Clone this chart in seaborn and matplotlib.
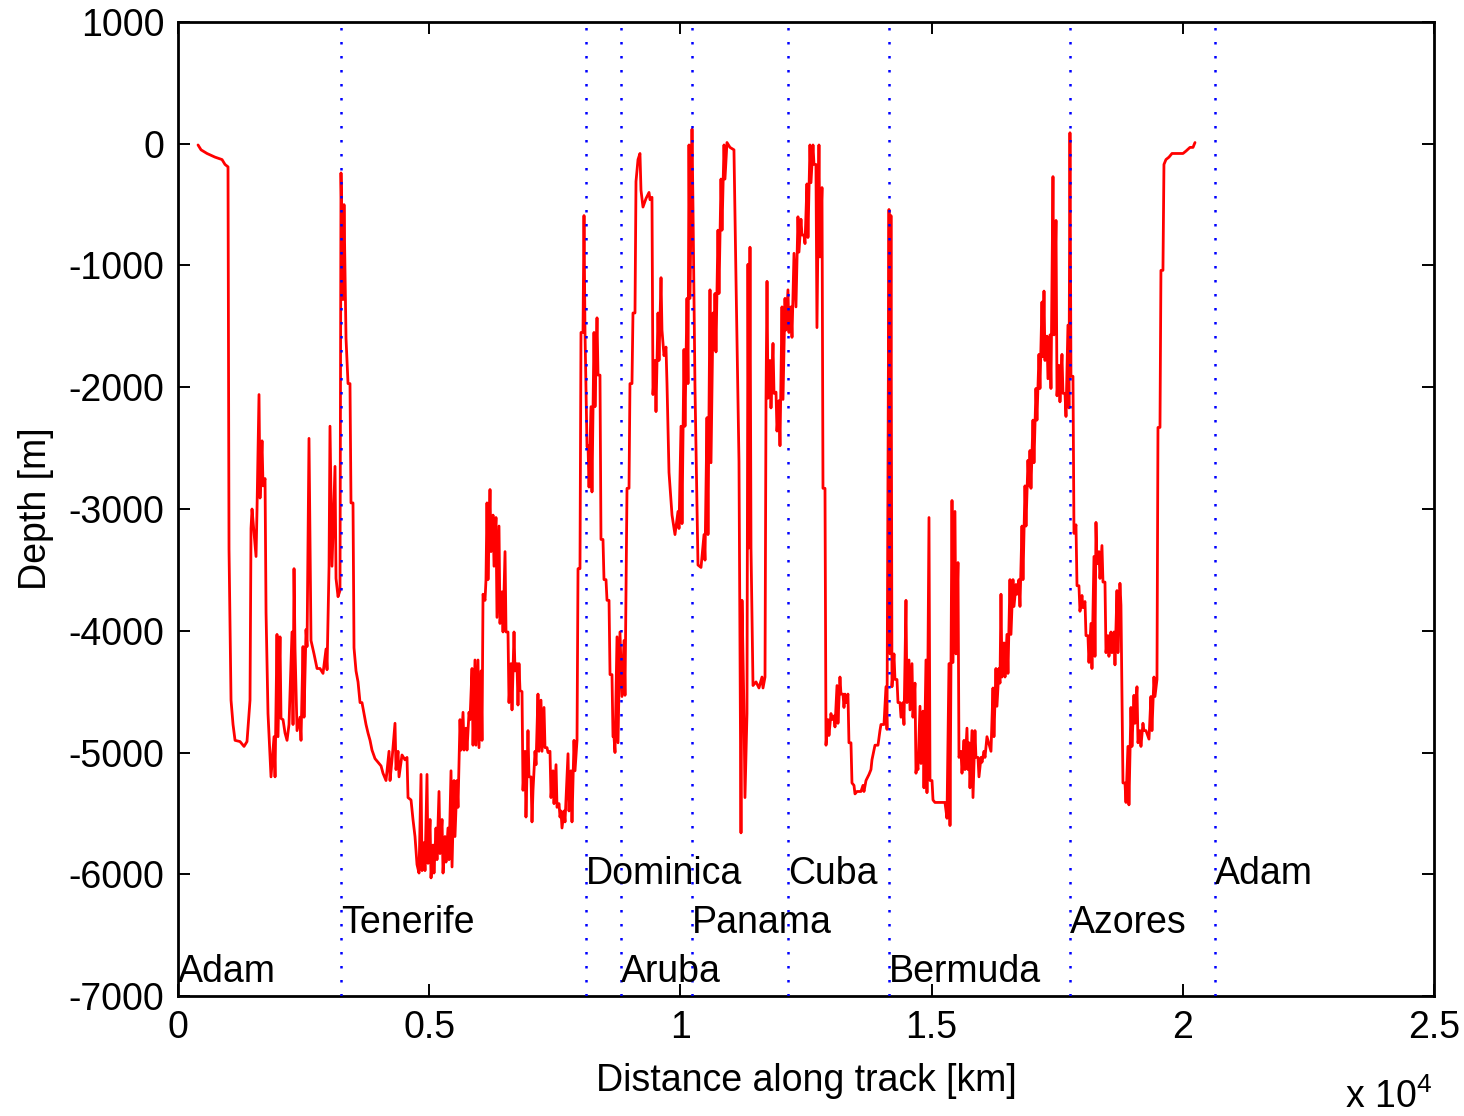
import numpy as np
import pandas as pd
import matplotlib.pyplot as plt
import seaborn as sns

# ===== data =====
dist_km = [398, 458, 577, 736, 876, 935, 995, 1015, 1055, 1095, 1135, 1234, 1314, 1373, 1433, 1453, 1473,
           1553, 1572, 1612, 1632, 1672, 1692, 1732, 1752, 1791, 1851, 1911, 1931, 1970, 1990, 2030, 2050,
           2090, 2130, 2170, 2209, 2269, 2289, 2309, 2329, 2369, 2428, 2448, 2488, 2508, 2548, 2568, 2607,
           2647, 2707, 2767, 2826, 2886, 2946, 2966, 3006, 3025, 3065, 3125, 3145, 3185, 3224, 3244, 3284,
           3304, 3344, 3384, 3423, 3443, 3483, 3503, 3543, 3583, 3623, 3662, 3702, 3742, 3782, 3822, 3861,
           3921, 3981, 4041, 4080, 4140, 4200, 4220, 4259, 4319, 4339, 4379, 4399, 4458, 4518, 4558, 4578,
           4638, 4677, 4697, 4717, 4757, 4797, 4837, 4857, 4896, 4916, 4956, 4976, 5016, 5036, 5076, 5095,
           5135, 5155, 5195, 5215, 5255, 5275, 5314, 5334, 5374, 5394, 5434, 5454, 5494, 5513, 5553, 5573,
           5613, 5633, 5673, 5693, 5732, 5752, 5792, 5812, 5852, 5872, 5911, 5931, 5971, 5991, 6031, 6051,
           6071, 6111, 6130, 6150, 6170, 6210, 6230, 6270, 6290, 6329, 6349, 6389, 6409, 6449, 6469, 6509,
           6529, 6568, 6588, 6628, 6648, 6688, 6708, 6747, 6767, 6787, 6807, 6847, 6867, 6907, 6926, 6966,
           6986, 7026, 7046, 7066, 7106, 7126, 7165, 7185, 7225, 7245, 7285, 7305, 7345, 7364, 7404, 7424,
           7464, 7484, 7524, 7544, 7584, 7603, 7623, 7643, 7683, 7703, 7763, 7782, 7822, 7842, 7882, 7902,
           7942, 7962, 8001, 8021, 8061, 8081, 8101, 8141, 8161, 8181, 8220, 8240, 8280, 8300, 8340, 8360,
           8399, 8419, 8459, 8479, 8519, 8539, 8579, 8599, 8638, 8658, 8678, 8698, 8738, 8758, 8797, 8837,
           8877, 8897, 8937, 8977, 8996, 9036, 9056, 9096, 9116, 9156, 9195, 9215, 9255, 9315, 9375, 9395,
           9434, 9454, 9494, 9514, 9554, 9574, 9614, 9633, 9673, 9713, 9733, 9773, 9833, 9892, 9952, 9972,
           10012, 10032, 10071, 10091, 10131, 10151, 10171, 10191, 10231, 10251, 10290, 10350, 10410, 10470,
           10489, 10529, 10549, 10589, 10609, 10649, 10669, 10688, 10708, 10748, 10768, 10808, 10828, 10868,
           10887, 10927, 10987, 11066, 11106, 11166, 11206, 11226, 11266, 11285, 11325, 11345, 11365, 11385,
           11405, 11445, 11505, 11564, 11624, 11644, 11684, 11704, 11724, 11743, 11783, 11803, 11843, 11863,
           11903, 11922, 11962, 11982, 12022, 12042, 12082, 12101, 12141, 12161, 12201, 12221, 12261, 12300,
           12340, 12360, 12400, 12420, 12460, 12480, 12519, 12539, 12579, 12599, 12639, 12659, 12698, 12718,
           12758, 12778, 12818, 12838, 12878, 12898, 12937, 12957, 12997, 13017, 13057, 13077, 13117, 13136,
           13176, 13196, 13236, 13256, 13276, 13296, 13335, 13355, 13395, 13415, 13455, 13475, 13515, 13594,
           13634, 13654, 13694, 13754, 13793, 13813, 13853, 13873, 13933, 13972, 13992, 14052, 14092, 14112,
           14152, 14172, 14191, 14211, 14251, 14271, 14311, 14331, 14371, 14391, 14430, 14450, 14490, 14510,
           14550, 14570, 14610, 14629, 14669, 14689, 14709, 14729, 14769, 14789, 14828, 14848, 14888, 14908,
           14948, 14968, 15008, 15028, 15067, 15266, 15306, 15346, 15366, 15406, 15426, 15465, 15485, 15525,
           15545, 15585, 15605, 15645, 15664, 15704, 15724, 15744, 15764, 15804, 15824, 15863, 15883, 15923,
           15943, 15983, 16003, 16043, 16063, 16102, 16182, 16222, 16241, 16281, 16301, 16341, 16361, 16381,
           16401, 16441, 16461, 16500, 16520, 16560, 16580, 16620, 16640, 16680, 16699, 16739, 16759, 16799,
           16819, 16859, 16879, 16918, 16938, 16958, 16978, 17018, 17038, 17077, 17097, 17137, 17157, 17197,
           17217, 17237, 17257, 17296, 17316, 17356, 17376, 17416, 17436, 17476, 17496, 17535, 17555, 17595,
           17615, 17655, 17675, 17714, 17734, 17754, 17774, 17814, 17834, 17874, 17894, 17933, 17953, 17993,
           18013, 18053, 18073, 18112, 18132, 18172, 18192, 18232, 18252, 18272, 18291, 18331, 18351, 18391,
           18411, 18451, 18471, 18510, 18530, 18570, 18590, 18630, 18650, 18690, 18709, 18749, 18769, 18809,
           18849, 18869, 18908, 18928, 18968, 18988, 19028, 19048, 19088, 19108, 19147, 19167, 19207, 19227,
           19267, 19327, 19366, 19386, 19426, 19446, 19486, 19506, 19546, 19565, 19605, 19625, 19665, 19725,
           19785, 20004, 20064, 20143, 20203, 20243]

depth_m = [-10, -50, -80, -110, -130, -170, -190, -3330, -4570, -4770, -4900, -4910, -4950, -4910, -4570, -3160, -3000,
           -3390, -3010, -2060, -2910, -2440, -2810, -2750, -3850, -4680, -5200, -4870, -5200, -4030, -4870, -4050, -4720,
           -4730, -4840, -4900, -4770, -4010, -4770, -3490, -4150, -4820, -4710, -4900, -4130, -4710, -3990, -4130, -2420,
           -4080, -4190, -4310, -4310, -4350, -4150, -4320, -3470, -2320, -3470, -2650, -3570, -3720, -3670, -240, -1280,
           -500, -1600, -1970, -1970, -2950, -2950, -4140, -4330, -4420, -4590, -4590, -4680, -4770, -4840, -4900, -4980,
           -5050, -5080, -5110, -5170, -5230, -4990, -5230, -5060, -4760, -5140, -4990, -5200, -5020, -5060, -5040, -5370,
           -5390, -5550, -5620, -5690, -5920, -5990, -5180, -5970, -5740, -5970, -5180, -5910, -5550, -6030, -5760, -5990,
           -5620, -5880, -5320, -5830, -5550, -5990, -5690, -5900, -5620, -5880, -5150, -5940, -5230, -5690, -5230, -5450,
           -4730, -4980, -4670, -4980, -4800, -4980, -4670, -4730, -4310, -4940, -4240, -4940, -4240, -4960, -4330, -4900,
           -3700, -3750, -3580, -2950, -3580, -2840, -3350, -3050, -3470, -3070, -3890, -3140, -3940, -3680, -4010, -3350,
           -4010, -4010, -4590, -4270, -4650, -4010, -4330, -4270, -4610, -4270, -4490, -4500, -5310, -4990, -5530, -4820,
           -5200, -5200, -5570, -5310, -4990, -5100, -4520, -4990, -4570, -4990, -4630, -4960, -4960, -5000, -4990, -5370,
           -5150, -5420, -5100, -5450, -5420, -5530, -5480, -5620, -5480, -5570, -5010, -5480, -5150, -5570, -4900, -5150,
           -4900, -3490, -3490, -1550, -1550, -590, -1550, -2490, -2480, -2820, -2160, -2860, -1550, -2160, -1430, -1900,
           -1900, -3250, -3250, -3580, -3580, -3750, -3750, -4360, -4360, -4870, -4870, -5000, -4050, -4920, -4010, -4540,
           -4080, -4530, -2830, -2830, -1970, -1970, -1390, -1390, -310, -130, -80, -380, -520, -450, -400, -460,
           -440, -2060, -1780, -2200, -1390, -1780, -1100, -1530, -1740, -1670, -1970, -2700, -3050, -3210, -3020, -3160,
           -2320, -3120, -1690, -2320, -1270, -1970, -10, -1270, 120, -540, -2000, -3460, -3480, -3210,
           -3420, -2250, -3210, -1200, -2620, -1390, -1690, -1230, -1710, -710, -1230, -290, -710, -10,
           -290, 10, -30, -50, -1100, -2610, -5660, -3750, -4680, -5370, -4680, -990, -3320, -850,
           -3320, -4450, -4420, -4470, -4380, -4470, -4380, -2090, -1130, -2090, -1780, -2170, -1640, -2050,
           -2040, -2360, -2110, -2480, -1340, -2100, -1270, -1530, -1200, -1550, -1340, -1590, -900, -1340,
           -600, -890, -620, -750, -750, -820, -330, -770, -10, -320, -10, -170, -170, -1510,
           -10, -930, -360, -2830, -2830, -4940, -4730, -4860, -4680, -4730, -4700, -4790, -4450, -4760,
           -4380, -4520, -4520, -4630, -4520, -4590, -4520, -4920, -4920, -5250, -5270, -5340, -5320, -5320,
           -5270, -5320, -5230, -5180, -5140, -5060, -4980, -4940, -4940, -4820, -4770, -4770, -4460, -4810,
           -540, -4190, -590, -4460, -4190, -4400, -4400, -4590, -4590, -4710, -4590, -4770, -3750, -4590,
           -4240, -4650, -4270, -4710, -4430, -5170, -5090, -5140, -4620, -5090, -4660, -5290, -4240, -5330,
           -3070, -5230, -5230, -5390, -5410, -5410, -5540, -4270, -5600, -2930, -4260, -3020, -4190, -3440,
           -5040, -4990, -5170, -4900, -5140, -4800, -5140, -4920, -5290, -4820, -5370, -4820, -5040, -5040,
           -5200, -5040, -5080, -4990, -5040, -4870, -4990, -4470, -4870, -4310, -4620, -4310, -4430, -3700,
           -4380, -4100, -4380, -4030, -4350, -3580, -4030, -3580, -3800, -3620, -3700, -3580, -3800, -3140,
           -3580, -2810, -3140, -2600, -2810, -2520, -2830, -2270, -2620, -2010, -2270, -1730, -2010, -1300,
           -1750, -1210, -1780, -1580, -1930, -1570, -2010, -270, -1570, -630, -2070, -1820, -2120, -1730,
           -2050, -2050, -2240, -1490, -2170, 90, -1910, -1910, -3200, -3130, -3630, -3630, -3840, -3710,
           -3810, -3760, -4040, -4040, -4260, -3940, -4310, -3390, -4210, -3110, -3450, -3350, -3570, -3300,
           -3600, -3600, -4180, -4040, -4210, -4010, -4180, -4010, -4280, -3670, -4180, -3610, -3790, -5250,
           -5250, -5410, -4950, -5430, -4630, -4950, -4530, -4760, -4460, -4920, -4820, -4950, -4760, -4820,
           -4820, -4890, -4540, -4820, -4380, -4540, -4400, -2330, -2330, -1040, -1040, -170, -130, -110,
           -80, -80, -60, -30, -30, 10]

# ports along the track (dotted markers) and where their names sit
port_names = ['Adam', 'Tenerife', 'Dominica', 'Aruba', 'Panama', 'Cuba', 'Bermuda', 'Azores', 'Adam']
port_km = [0, 3240, 8121, 8810, 10235, 12142, 14152, 17758, 20645]
label_depth = [-6800, -6400, -6000, -6800, -6400, -6000, -6800, -6400, -6000]

x_ticks = [0, 5000, 10000, 15000, 20000, 25000]
x_tick_labels = ['0', '0.5', '1', '1.5', '2', '2.5']
y_ticks = [-7000, -6000, -5000, -4000, -3000, -2000, -1000, 0, 1000]

# ===== style =====
sns.set_style('white')
plt.rcParams['font.family'] = ['Liberation Sans', 'DejaVu Sans']
plt.rcParams['mathtext.fontset'] = 'custom'
plt.rcParams['mathtext.rm'] = 'Liberation Sans'
plt.rcParams['mathtext.default'] = 'regular'
plt.rcParams['text.color'] = 'black'
plt.rcParams['axes.labelcolor'] = 'black'
fs = 27

fig = plt.figure(figsize=(14.64, 11.16), dpi=100)
ax = fig.add_axes([0.1216, 0.1075, 0.8579, 0.8728])

track = pd.DataFrame({'dist': dist_km, 'depth': depth_m})
sns.lineplot(data=track, x='dist', y='depth', sort=False, estimator=None,
             color='#ff0000', lw=2.0, ax=ax)

for x in port_km[1:]:
    ax.axvline(x, color='#0000ff', lw=1.8, ls=(0, (1, 4.6)), zorder=3)

for name, x, y in zip(port_names, port_km, label_depth):
    ax.text(x, y, name, ha='left', va='center', fontsize=fs, color='black')

ax.set_xlim(0, 25000)
ax.set_ylim(-7000, 1000)
ax.set_xticks(x_ticks)
ax.set_xticklabels(x_tick_labels)
ax.set_yticks(y_ticks)
ax.set_yticklabels([str(v) for v in y_ticks])
ax.tick_params(direction='in', length=8.5, width=1.4, bottom=True, left=True,
               top=True, right=True, labelsize=fs, pad=10, colors='black')
for sp in ax.spines.values():
    sp.set_linewidth(2)
    sp.set_color('black')

ax.set_xlabel('Distance along track [km]', fontsize=fs, labelpad=12)
ax.set_ylabel('Depth [m]', fontsize=fs, labelpad=10)

fig.text(1345 / 1464, 0.007, 'x 10$^{4}$', fontsize=fs, ha='left', va='baseline')

fig.savefig('out.png', dpi=100)
